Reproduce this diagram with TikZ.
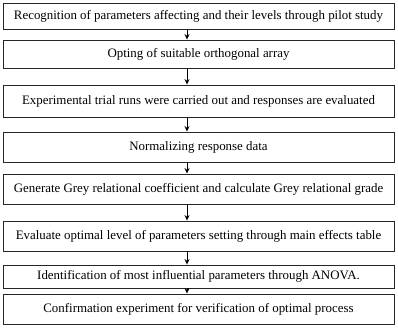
\documentclass[tikz,border=0pt]{standalone}
\usepackage{fontspec}
\setmainfont{Liberation Serif}
\usetikzlibrary{arrows.meta}
\tikzset{khung/.style={draw=black!85,line width=0.9pt,minimum width=391pt,inner sep=0pt,font=\fontsize{12.9}{14}\selectfont}}
\begin{document}
\begin{tikzpicture}[>={Stealth[length=5.5pt,width=5pt]},x=1pt,y=-1pt]
			\useasboundingbox (0,0) rectangle (398,333);
			%Khung 1
			\node[khung,minimum height=26pt] (b1) at (198.5,16) {Recognition of parameters affecting and their levels through pilot study};
			%Khung 2
			\node[khung,minimum height=28pt] (b2) at (198.5,54) {Opting of suitable orthogonal array};
			%Khung 3
			\node[khung,minimum height=32pt] (b3) at (198.5,101) {Experimental trial runs were carried out and responses are evaluated};
			%Khung 4
			\node[khung,minimum height=30pt] (b4) at (198.5,147) {Normalizing response data};
			%Khung 5
			\node[khung,minimum height=30pt] (b5) at (198.5,189) {Generate Grey relational coefficient and calculate Grey relational grade};
			%Khung 6
			\node[khung,minimum height=30pt] (b6) at (198.5,236) {Evaluate optimal level of parameters setting through main effects table};
			%Khung 7
			\node[khung,minimum height=23pt] (b7) at (198.5,276.5) {Identification of most influential parameters through ANOVA.};
			%Khung 8
			\node[khung,minimum height=30pt] (b8) at (198.5,309) {Confirmation experiment for verification of optimal process};
			%Mui ten
			\coordinate (ax) at (187,0);
			\draw [->,line width=0.9pt] (b1.south -| ax)--(b2.north -| ax);
			\draw [->,line width=0.9pt] (b2.south -| ax)--(b3.north -| ax);
			\draw [->,line width=0.9pt] (b3.south -| ax)--(b4.north -| ax);
			\draw [->,line width=0.9pt] (b4.south -| ax)--(b5.north -| ax);
			\draw [->,line width=0.9pt] (b5.south -| ax)--(b6.north -| ax);
			\draw [->,line width=0.9pt] (b6.south -| ax)--(b7.north -| ax);
			\draw [->,line width=0.9pt] (b7.south -| ax)--(b8.north -| ax);
		\end{tikzpicture}
\end{document}
